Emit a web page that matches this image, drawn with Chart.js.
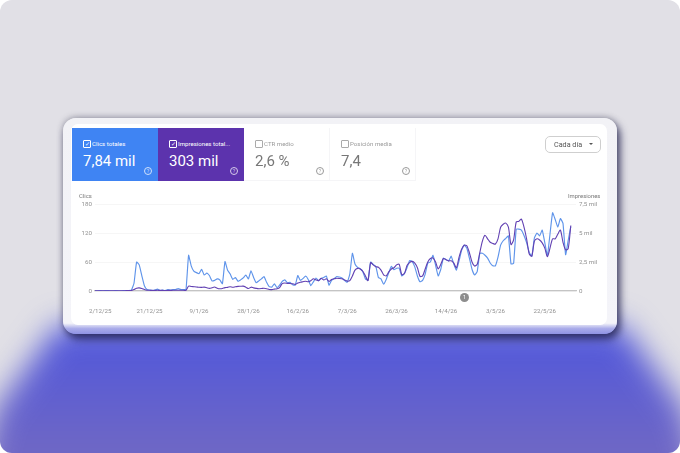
<!DOCTYPE html>
<html lang="es">
<head>
<meta charset="utf-8">
<title>Rendimiento</title>
<script src="https://cdn.jsdelivr.net/npm/chart.js@4/dist/chart.umd.min.js"></script>
<style>
  html, body { margin: 0; padding: 0; background: #fff; }
  body { width: 680px; height: 453px; overflow: hidden; font-family: Roboto, sans-serif; }
  #page { position: relative; width: 680px; height: 453px; background: #e1e0e6; border-radius: 12px; overflow: hidden; }
  #glow { position: absolute; inset: 0; filter: blur(15px); }
  #glow div { position: absolute; left: -60px; top: -60px; width: 800px; height: 573px; background: linear-gradient(#5057dc 68%, #7068c4 90%);
    clip-path: polygon(118px 385px, 682px 385px, 745px 470px, 770px 573px, 30px 573px, 55px 470px); }
  #frame { position: absolute; left: 63px; top: 118px; width: 554px; height: 216px; border-radius: 13px;
    background: linear-gradient(#f2f2f6 0, #f4f4f9 95%, #a9abe9 97.5%, #8f93e4 100%);
    box-shadow: 3px 5px 9px rgba(22, 22, 70, .75), 0 -1px 6px rgba(60, 60, 80, .35); }
  #card { position: absolute; left: 71px; top: 124px; width: 536px; height: 201px; background: #fff; border-radius: 7px; }
  #soft { position: absolute; inset: 0; filter: blur(.45px); }
  .tile { position: absolute; top: 128px; width: 86px; height: 53px; color: #777; box-sizing: border-box; }
  .tile.on { color: #fff; }
  .tile.off { border-right: 1px solid #f5f5f7; border-bottom: 1px solid #f5f5f7; }
  .box { position: absolute; left: 11px; top: 12px; width: 6px; height: 6px; border: .8px solid #aaa; border-radius: 1px; }
  .on .box { border-color: #fff; font-size: 6px; line-height: 6px; text-align: center; }
  .name { position: absolute; left: 20px; top: 11.5px; font-size: 6.1px; line-height: 8px; white-space: nowrap; }
  .off .name { color: #9a9a9a; }
  .num { position: absolute; left: 11px; top: 22.8px; font-size: 15px; line-height: 20px; white-space: nowrap; }
  .help { position: absolute; left: 72px; top: 39px; width: 6px; height: 6px; border: .8px solid currentColor; border-radius: 50%;
    font-size: 5px; line-height: 6px; text-align: center; opacity: .75; }
  #drop { position: absolute; left: 545px; top: 136px; width: 54px; height: 15px; border: 1px solid #cfcfcf; border-radius: 5px;
    font-size: 7.2px; line-height: 15px; color: #555; text-indent: 8px; }
  #drop i { position: absolute; left: 43px; top: 6px; width: 0; height: 0; border: 2px solid transparent; border-top: 2.6px solid #555; }
  .axisname { position: absolute; top: 192px; font-size: 5.9px; line-height: 8px; color: #777; }
  #chart { position: absolute; left: 70px; top: 195px; }
  #mark { position: absolute; left: 460px; top: 292.5px; width: 9px; height: 9px; border-radius: 50%; background: #8d8d8d; color: #fff;
    font-size: 5.5px; line-height: 9px; text-align: center; }
</style>
</head>
<body>
<div id="page">
  <div id="glow"><div></div></div>
  <div id="frame"></div>
  <div id="card"></div>
  <div id="soft">
    <div class="tile on" style="left:72px;background:#3f84f3"><span class="box">✓</span><span class="name">Clics totales</span><span class="num">7,84 mil</span><span class="help">?</span></div>
    <div class="tile on" style="left:158px;background:#5c33ad"><span class="box">✓</span><span class="name">Impresiones total...</span><span class="num">303 mil</span><span class="help">?</span></div>
    <div class="tile off" style="left:244px"><span class="box"></span><span class="name">CTR medio</span><span class="num">2,6 %</span><span class="help">?</span></div>
    <div class="tile off" style="left:330px"><span class="box"></span><span class="name">Posición media</span><span class="num">7,4</span><span class="help">?</span></div>
    <div id="drop">Cada día<i></i></div>
    <div class="axisname" style="left:79px">Clics</div>
    <div class="axisname" style="left:568px">Impresiones</div>
    <canvas id="chart" width="540" height="125"></canvas>
    <div id="mark">1</div>
  </div>
</div>
<script>
const clicks = [
  0, 0, 1, 0, 1, 1, 0, 0, 1, 0,
  0, 1, 1, 1, 2, 16, 60, 54, 32, 11,
  3, 2, 1, 2, 4, 1, 2, 1, 3, 2,
  3, 3, 5, 3, 3, 3, 74, 52, 41, 38,
  36, 45, 33, 37, 32, 21, 22, 25, 23, 15,
  61, 43, 35, 24, 28, 20, 23, 27, 33, 25,
  42, 28, 17, 21, 25, 30, 18, 9, 8, 15,
  7, 12, 20, 23, 17, 18, 13, 12, 32, 22,
  26, 31, 24, 11, 19, 27, 21, 26, 28, 31,
  12, 22, 26, 30, 29, 27, 22, 18, 35, 78,
  56, 49, 46, 40, 25, 22, 60, 55, 51, 28,
  25, 14, 24, 38, 51, 44, 47, 47, 31, 36,
  48, 63, 61, 50, 31, 19, 22, 35, 58, 60,
  74, 53, 31, 45, 68, 65, 62, 72, 56, 43,
  62, 84, 95, 89, 68, 45, 33, 40, 78, 78,
  74, 68, 58, 52, 52, 70, 95, 104, 109, 114,
  56, 57, 128, 128, 126, 115, 100, 80, 72, 110,
  120, 114, 126, 100, 73, 118, 162, 148, 132, 150,
  140, 75, 105, 133
];

const impressions = [
  10, 10, 20, 10, 20, 20, 10, 20, 20, 10,
  20, 20, 30, 30, 40, 120, 240, 270, 220, 130,
  70, 60, 50, 50, 60, 50, 50, 40, 50, 50,
  60, 60, 70, 60, 60, 60, 420, 390, 370, 350,
  320, 310, 330, 280, 230, 280, 340, 240, 190, 210,
  290, 310, 370, 320, 370, 400, 410, 420, 330, 210,
  330, 270, 230, 200, 210, 240, 200, 130, 120, 160,
  200, 300, 640, 690, 660, 650, 620, 560, 690, 760,
  800, 840, 800, 880, 1050, 950, 900, 1100, 950, 1050,
  830, 1000, 1050, 1100, 1080, 1050, 950, 850, 900, 1300,
  1800, 1950, 1900, 1700, 1300, 900, 2450, 2250, 2100, 2050,
  1800, 1400, 1300, 1650, 1900, 2000, 2250, 2300, 1400, 1500,
  2200, 2450, 2550, 2400, 2000, 1260, 1300, 1900, 2500, 2800,
  2850, 2500, 1900, 2300, 2800, 2700, 2600, 2600, 2400, 2000,
  2900, 3600, 3950, 3900, 3300, 2500, 2150, 2300, 3300, 4300,
  4800, 4500, 4200, 4100, 4050, 4500, 5500, 5750, 5850, 5500,
  4000, 4400, 5950, 6000, 6200, 5500, 4500, 3200, 3000, 4300,
  4500, 4400, 4150, 3700, 2950, 3700, 4500, 4500, 4900, 5250,
  4200, 3550, 3650, 5650
];

const dateTicks = ['2/12/25', '21/12/25', '9/1/26', '28/1/26', '16/2/26', '7/3/26', '26/3/26', '14/4/26', '3/5/26', '22/5/26'];
const clickTicks = { 0: '0', 60: '60', 120: '120', 180: '180' };
const impressionTicks = { 0: '0', 2500: '2,5 mil', 5000: '5 mil', 7500: '7,5 mil' };

// one label per day, the axis runs two days past the last point
const days = [];
for (let d = new Date(2025, 10, 30); days.length < clicks.length + 2; d.setDate(d.getDate() + 1)) {
  days.push(`${d.getDate()}/${d.getMonth() + 1}/${String(d.getFullYear()).slice(2)}`);
}

const tickFont = { family: 'Roboto', size: 6.2 };

new Chart(document.getElementById('chart'), {
  type: 'line',
  data: {
    labels: days,
    datasets: [
      { label: 'Clics', data: clicks, yAxisID: 'y', borderColor: '#5f94ea', borderWidth: 1.15, tension: 0.12, pointRadius: 0, order: 2 },
      { label: 'Impresiones', data: impressions, yAxisID: 'y2', borderColor: '#6140b2', borderWidth: 1.1, tension: 0.25, pointRadius: 0, order: 1 }
    ]
  },
  options: {
    responsive: false,
    animation: false,
    layout: { padding: { top: 9, left: 0, right: 0, bottom: 0 } },
    plugins: { legend: { display: false }, tooltip: { enabled: false } },
    scales: {
      x: {
        afterFit: s => { s.height = 29; },
        grid: { display: false },
        border: { color: '#c4c4c4', width: 1.2 },
        ticks: {
          autoSkip: false, maxRotation: 0, minRotation: 0, padding: 9, font: tickFont, color: '#929292',
          callback(v) { const l = this.getLabelForValue(v); return dateTicks.includes(l) ? l : ''; }
        }
      },
      y: {
        position: 'left', min: 0, max: 180,
        afterFit: s => { s.width = 25; },
        grid: { color: '#f4f4f4', lineWidth: 0.8, drawTicks: false },
        border: { display: false },
        ticks: { stepSize: 60, padding: 3, font: tickFont, color: '#929292', callback: v => clickTicks[v] }
      },
      y2: {
        position: 'right', min: 0, max: 7500,
        afterFit: s => { s.width = 34; },
        grid: { display: false, drawTicks: false },
        border: { display: false },
        ticks: { stepSize: 2500, padding: 3, font: tickFont, color: '#929292', callback: v => impressionTicks[v] }
      }
    }
  }
});
</script>
</body>
</html>
